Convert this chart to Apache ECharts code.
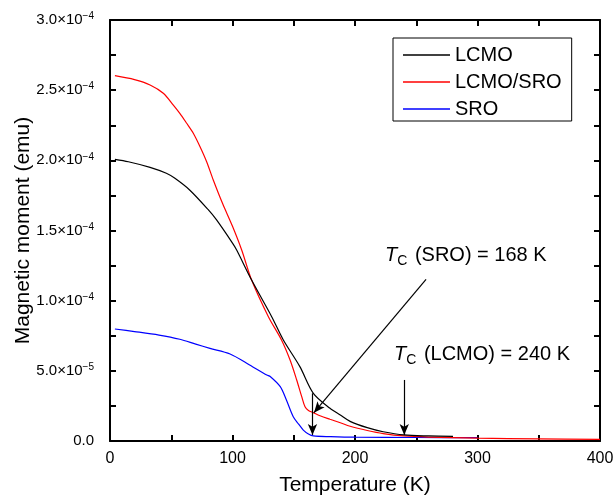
<!DOCTYPE html>
<html>
<head>
<meta charset="utf-8">
<script src="https://cdn.jsdelivr.net/npm/echarts@6/dist/echarts.min.js"></script>
<style>
  html, body { margin: 0; padding: 0; background: #fff; }
  #chart { width: 614px; height: 496px; }
</style>
</head>
<body>
<div id="chart"></div>
<script>
// 读图得到的数据 (温度 K, 磁矩 ×1e-4 emu)
let lcmoT = [4, 15, 32.7, 46, 53, 65, 80, 87, 100, 103.4, 115.6, 132, 141.5, 155, 166, 179.6, 188, 196, 210, 223, 240, 260, 280];
let lcmoM = [2.007, 1.99, 1.95, 1.908, 1.872, 1.789, 1.65, 1.575, 1.41, 1.361, 1.147, 0.886, 0.72, 0.53, 0.34, 0.233, 0.185, 0.14, 0.095, 0.066, 0.043, 0.036, 0.033];

let lsT = [4, 20, 32.7, 43.5, 51.7, 57, 62.6, 68, 73.5, 78.9, 84.3, 92, 100, 107.5, 115.6, 129.3, 140, 147, 152.4, 156.5, 159.2, 162, 166, 172, 179.6, 188, 196, 210, 223, 240, 260, 300, 350, 400];
let lsM = [2.603, 2.575, 2.537, 2.478, 2.394, 2.335, 2.264, 2.193, 2.097, 1.99, 1.86, 1.69, 1.53, 1.361, 1.147, 0.886, 0.72, 0.577, 0.435, 0.316, 0.244, 0.218, 0.202, 0.178, 0.155, 0.13, 0.105, 0.075, 0.053, 0.036, 0.028, 0.02, 0.015, 0.012];

let sroT = [4, 20, 40, 57, 70, 81.6, 98, 114, 128, 131, 139, 144, 149.6, 154, 157.8, 162, 166, 180, 200, 250, 300];
let sroM = [0.798, 0.78, 0.755, 0.725, 0.69, 0.66, 0.62, 0.542, 0.47, 0.458, 0.387, 0.292, 0.173, 0.12, 0.078, 0.05, 0.036, 0.031, 0.027, 0.025, 0.024];

let xTicks = [0, 100, 200, 300, 400];
let seriesNames = ["LCMO", "LCMO/SRO", "SRO"];

// 箭头 (数据坐标)
let arrowSro = [[258, 1.152], [166.5, 0.202]];
let arrowSroV = [[165.3, 0.34], [165.3, 0.043]];
let arrowLcmoV = [[240.2, 0.435], [240.2, 0.043]];

function toPairs(t, m){
    let out = [];
    for(let i = 0; i < t.length; i++){
        out.push([t[i], m[i] * 1e-4]);
    }
    return out;
}

function arrowLine(a){
    return [{coord: [a[0][0], a[0][1] * 1e-4]}, {coord: [a[1][0], a[1][1] * 1e-4]}];
}

function yLabel(v){
    if(v === 0) return "0.0";
    let e = Math.floor(Math.log10(v) + 1e-9);
    let m = v / Math.pow(10, e);
    return m.toFixed(1) + "×10{s|−" + (-e) + "}";
}

let font = "Liberation Sans, Arial, sans-serif";
let chart = echarts.init(document.getElementById("chart"));

let tickStyle = { color: "#000", width: 2 };
let axisCommon = {
    axisLine: { show: true, onZero: false, lineStyle: { color: "#000", width: 2 } },
    splitLine: { show: false }
};

let option = {
    animation: false,
    backgroundColor: "#fff",
    textStyle: { fontFamily: font },
    grid: { left: 110, right: 14, top: 20, bottom: 55, containLabel: false, outerBoundsMode: "none" },
    legend: {
        data: seriesNames,
        orient: "vertical",
        left: 393,
        top: 38,
        icon: "rect",
        itemWidth: 47,
        itemHeight: 1.5,
        itemGap: 7,
        padding: [7, 10, 2, 10],
        borderColor: "#000",
        borderWidth: 1,
        textStyle: { fontSize: 20, color: "#000", fontFamily: font }
    },
    xAxis: [{
        type: "value",
        min: 0,
        max: 400,
        interval: 100,
        name: "Temperature (K)",
        nameLocation: "middle",
        nameGap: 34,
        nameMoveOverlap: false,
        nameTextStyle: { fontSize: 21, color: "#000", fontFamily: font },
        axisTick: { inside: true, length: 6, lineStyle: tickStyle },
        minorTick: { show: true, splitNumber: 2, length: 6, lineStyle: tickStyle },
        axisLabel: { fontSize: 16, color: "#000", margin: 10, fontFamily: font },
        ...axisCommon
    }, {
        type: "value",
        position: "top",
        min: 0,
        max: 400,
        interval: 100,
        axisTick: { inside: true, length: 6, lineStyle: tickStyle },
        minorTick: { show: true, splitNumber: 2, length: 6, lineStyle: tickStyle },
        axisLabel: { show: false },
        ...axisCommon
    }],
    yAxis: [{
        type: "value",
        min: 0,
        max: 3e-4,
        interval: 5e-5,
        name: "Magnetic moment (emu)",
        nameLocation: "middle",
        nameGap: 76,
        nameMoveOverlap: false,
        nameTextStyle: { fontSize: 21, color: "#000", fontFamily: font },
        axisTick: { inside: true, length: 6, lineStyle: tickStyle },
        minorTick: { show: true, splitNumber: 2, length: 6, lineStyle: tickStyle },
        axisLabel: {
            fontSize: 15,
            color: "#000",
            margin: 16,
            fontFamily: font,
            formatter: yLabel,
            rich: {
                s: { fontSize: 10, fontFamily: font, color: "#000", padding: [0, 0, 7, 0] }
            }
        },
        ...axisCommon
    }, {
        type: "value",
        position: "right",
        min: 0,
        max: 3e-4,
        interval: 5e-5,
        axisTick: { inside: true, length: 6, lineStyle: tickStyle },
        minorTick: { show: true, splitNumber: 2, length: 6, lineStyle: tickStyle },
        axisLabel: { show: false },
        ...axisCommon
    }],
    series: [
        {
            name: "LCMO",
            type: "line",
            data: toPairs(lcmoT, lcmoM),
            symbol: "none",
            smooth: 0.3,
            lineStyle: { color: "#000", width: 1.2 },
            itemStyle: { color: "#000" },
            z: 3,
            markLine: {
                silent: true,
                symbol: ["none", "arrow"],
                symbolSize: [7, 11],
                label: { show: false },
                lineStyle: { color: "#000", width: 1.2, type: "solid" },
                data: [arrowLine(arrowSro), arrowLine(arrowSroV), arrowLine(arrowLcmoV)]
            }
        },
        {
            name: "LCMO/SRO",
            type: "line",
            data: toPairs(lsT, lsM),
            symbol: "none",
            smooth: 0.3,
            lineStyle: { color: "#ff0000", width: 1.2 },
            itemStyle: { color: "#ff0000" },
            z: 2
        },
        {
            name: "SRO",
            type: "line",
            data: toPairs(sroT, sroM),
            symbol: "none",
            smooth: 0.3,
            lineStyle: { color: "#0000ff", width: 1.2 },
            itemStyle: { color: "#0000ff" },
            z: 1
        }
    ],
    graphic: [
        {
            type: "text",
            left: 385,
            top: 245,
            style: {
                text: "{i|T}{c|C} (SRO) = 168 K",
                fill: "#000",
                font: "20px " + font,
                rich: {
                    i: { fontSize: 20, fontStyle: "italic", fontFamily: font },
                    c: { fontSize: 14, fontFamily: font, padding: [12, 2, 0, 0] }
                }
            }
        },
        {
            type: "text",
            left: 394,
            top: 344,
            style: {
                text: "{i|T}{c|C} (LCMO) = 240 K",
                fill: "#000",
                font: "20px " + font,
                rich: {
                    i: { fontSize: 20, fontStyle: "italic", fontFamily: font },
                    c: { fontSize: 14, fontFamily: font, padding: [12, 2, 0, 0] }
                }
            }
        }
    ]
};
chart.setOption(option);
</script>
</body>
</html>
